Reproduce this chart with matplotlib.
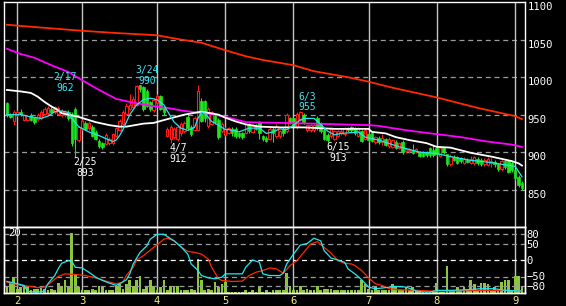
import numpy as np
import matplotlib
matplotlib.use('Agg')
import matplotlib.pyplot as plt

# ---- daily OHLC (day index 0 = last days of January) ----
opens = [966, 950, 942, 950, 954, 943, 943, 950, 945, 944, 945, 951, 952, 958, 953, 951, 949, 949, 954, 951,
         958, 916, 931, 939, 932, 934, 927, 915, 912, 911, 912, 912, 922, 930, 938, 951, 958, 960, 963, 989,
         987, 982, 967, 956, 965, 975, 960, 922, 918, 920, 918, 925, 928, 947, 934, 930, 930, 968, 968, 935,
         938, 948, 943, 928, 923, 926, 931, 931, 925, 925, 926, 937, 927, 936, 940, 921, 919, 918, 931, 921,
         921, 931, 928, 945, 945, 933, 943, 950, 929, 929, 929, 946, 938, 930, 923, 921, 918, 922, 925, 924,
         932, 933, 932, 922, 928, 918, 924, 925, 913, 919, 913, 917, 908, 907, 914, 906, 914, 901, 901, 903,
         901, 900, 900, 900, 905, 903, 906, 895, 905, 897, 884, 894, 893, 892, 886, 890, 886, 885, 891, 890,
         884, 883, 885, 887, 884, 877, 888, 888, 886, 876, 867, 859]
highs = [967, 952, 956, 956, 958, 951, 950, 952, 947, 952, 956, 960, 961, 960, 962, 961, 957, 956, 956, 953,
         960, 935, 944, 941, 941, 936, 929, 917, 914, 925, 920, 926, 934, 944, 956, 965, 978, 975, 990, 990,
         988, 984, 968, 972, 978, 976, 962, 933, 936, 933, 936, 940, 942, 951, 936, 948, 990, 972, 970, 960,
         955, 950, 945, 940, 933, 934, 933, 933, 927, 927, 939, 939, 937, 938, 942, 923, 921, 933, 933, 937,
         930, 933, 952, 947, 947, 953, 955, 952, 938, 938, 938, 948, 940, 932, 925, 934, 930, 930, 932, 934,
         934, 935, 934, 934, 930, 932, 926, 927, 922, 921, 924, 919, 920, 918, 916, 914, 916, 906, 905, 911,
         906, 902, 902, 902, 907, 910, 908, 908, 907, 898, 897, 896, 895, 894, 893, 892, 895, 895, 893, 892,
         892, 893, 892, 889, 886, 890, 890, 890, 888, 878, 869, 861]
lows = [947, 945, 936, 948, 948, 941, 941, 941, 938, 942, 943, 949, 950, 951, 951, 949, 947, 947, 943, 908,
        893, 913, 929, 929, 930, 920, 916, 906, 904, 909, 910, 910, 920, 928, 936, 949, 956, 958, 961, 980,
        955, 960, 955, 954, 963, 956, 950, 920, 912, 918, 915, 922, 926, 930, 921, 928, 928, 940, 940, 932,
        936, 938, 917, 926, 921, 924, 922, 919, 919, 918, 924, 926, 925, 929, 918, 915, 913, 916, 913, 919,
        919, 921, 926, 937, 933, 931, 941, 938, 927, 927, 927, 930, 926, 916, 913, 919, 916, 920, 923, 922,
        927, 927, 923, 920, 913, 916, 914, 913, 911, 911, 910, 908, 906, 905, 904, 904, 898, 899, 899, 897,
        899, 893, 894, 894, 894, 894, 895, 893, 898, 882, 882, 888, 884, 886, 884, 885, 884, 883, 883, 882,
        882, 881, 880, 880, 875, 875, 878, 872, 874, 863, 854, 850]
closes = [949, 947, 954, 954, 951, 949, 948, 943, 940, 950, 954, 958, 959, 953, 960, 959, 955, 954, 945, 912,
          917, 933, 942, 931, 939, 922, 918, 908, 907, 923, 918, 924, 932, 942, 954, 962, 963, 971, 988, 984,
          958, 962, 958, 970, 975, 958, 954, 931, 934, 931, 934, 938, 939, 932, 924, 945, 982, 942, 945, 958,
          953, 940, 920, 938, 931, 932, 925, 921, 921, 920, 937, 928, 935, 931, 926, 917, 915, 931, 926, 935,
          928, 925, 950, 939, 935, 951, 954, 940, 936, 936, 936, 932, 928, 918, 916, 932, 928, 928, 928, 932,
          929, 929, 925, 932, 915, 930, 916, 915, 920, 913, 919, 910, 918, 916, 906, 912, 900, 904, 903, 899,
          904, 895, 895, 896, 896, 896, 897, 906, 900, 884, 895, 890, 886, 888, 891, 887, 891, 893, 885, 884,
          890, 891, 888, 884, 877, 888, 880, 874, 876, 865, 856, 852]
volume = [2.0, 3.3, 5.3, 1.5, 2.0, 2.2, 2.5, 1.0, 1.5, 1.3, 2.0, 1.5, 0.9, 1.5, 1.0, 3.3, 2.5, 4.2, 2.0, 20.0,
          6.5, 2.0, 0.9, 0.9, 0.9, 1.2, 0.9, 2.2, 2.2, 0.9, 0.9, 1.0, 2.5, 3.1, 1.5, 3.1, 4.2, 2.5, 4.2, 5.6,
          1.5, 2.0, 4.2, 2.2, 1.0, 2.0, 4.2, 1.0, 2.2, 2.2, 2.2, 1.0, 0.9, 1.0, 1.5, 0.9, 11.2, 4.2, 0.9, 1.5,
          1.0, 3.7, 2.0, 3.1, 3.7, 0.4, 0.4, 0.4, 0.4, 0.4, 0.9, 0.5, 0.9, 0.5, 2.2, 0.5, 0.9, 0.5, 0.9, 0.9,
          0.9, 0.9, 6.7, 2.2, 0.9, 0.9, 2.2, 0.9, 1.4, 0.9, 0.9, 2.2, 0.9, 1.4, 1.4, 1.4, 0.9, 0.9, 0.9, 0.9,
          0.9, 0.9, 0.9, 0.9, 4.4, 3.1, 1.4, 0.9, 2.0, 0.9, 0.9, 0.9, 0.9, 3.1, 2.0, 0.9, 0.9, 2.0, 0.9, 2.0,
          0.9, 0.3, 0.3, 0.3, 0.3, 0.3, 3.3, 0.3, 0.3, 8.9, 0.9, 0.9, 2.0, 0.9, 2.0, 0.9, 4.2, 3.1, 0.9, 3.3,
          3.3, 3.1, 0.9, 2.0, 0.9, 3.7, 4.2, 4.2, 0.9, 5.6, 5.6, 2.0]

# ---- moving averages (day index, value) ----
ma_long_days = [0, 8, 22, 32, 44, 50, 57, 64, 70, 75, 84, 90, 100, 106, 113, 126, 138, 149, 151]
ma_long = [1070, 1067, 1062, 1059, 1056, 1051, 1046, 1036, 1028, 1023, 1016, 1008, 1000, 994, 986, 973, 959, 948, 944]
ma_mid_days = [0, 4, 8, 13, 18, 22, 27, 32, 37, 42, 47, 52, 57, 60, 65, 70, 80, 90, 106, 109, 113, 119, 126, 133,
               141, 148, 151]
ma_mid = [1038, 1031, 1026, 1016, 1007, 996, 983, 971, 966, 962, 959, 955, 952, 951, 946, 940, 939, 938, 936, 935,
          932, 928, 924, 920, 914, 910, 907]
ma_25_days = [0, 4, 7, 9, 11, 13, 15, 16, 18, 21, 26, 30, 33, 35, 40, 43, 47, 52, 57, 62, 64, 67, 70, 74, 80, 87,
              96, 106, 107, 111, 114, 118, 123, 126, 130, 136, 142, 148, 150, 151]
ma_25 = [983, 981, 979, 974, 967, 961, 956, 952, 950, 947, 940, 936, 934, 934, 938, 939, 944, 950, 954, 950, 946,
         941, 937, 934, 933, 933, 931, 931, 927, 925, 920, 916, 912, 907, 906, 899, 894, 888, 885, 882]
ma_5_days = [0, 4, 7, 10, 12, 14, 16, 18, 19, 21, 24, 27, 30, 31, 32, 33, 34, 36, 38, 40, 42, 44, 46, 47, 49, 51,
             53, 55, 56, 57, 58, 60, 62, 64, 65, 68, 71, 74, 76, 78, 80, 82, 84, 86, 87, 90, 92, 94, 96, 98, 101,
             103, 105, 109, 115, 121, 126, 130, 136, 142, 146, 149, 150, 151]
ma_5 = [950, 950, 947, 945, 948, 954, 955, 953, 945, 934, 927, 922, 916, 914, 916, 922, 930, 950, 963, 970, 972,
        970, 963, 955, 940, 932, 929, 933, 945, 953, 952, 941, 936, 930, 930, 927, 932, 932, 925, 927, 931, 930,
        936, 943, 945, 945, 937, 928, 923, 925, 926, 927, 920, 916, 907, 900, 898, 894, 889, 886, 883, 881, 874, 867]

# ---- oscillators (lower panel) ----
osc_fast_days = [0, 3, 5, 6, 8, 10, 11, 12, 14, 15, 16, 18, 19, 20, 22, 24, 26, 28, 30, 32, 33, 35, 36, 37, 39, 41,
                 42, 44, 46, 47, 49, 51, 53, 54, 56, 57, 59, 61, 63, 64, 66, 69, 70, 72, 74, 75, 77, 80, 81, 82, 84,
                 86, 88, 90, 92, 93, 95, 97, 99, 100, 102, 104, 106, 108, 110, 114, 117, 120, 122, 124, 126, 130,
                 135, 139, 143, 146, 151]
osc_fast = [-65, -72, -77, -95, -97, -97, -92, -72, -47, -27, -10, -2, -4, -22, -24, -37, -52, -62, -70, -77, -72,
            -60, -42, -12, 23, 43, 63, 78, 78, 71, 58, 40, 18, -12, -32, -47, -54, -57, -52, -42, -42, -42, -22, 0,
            -7, -42, -47, -47, -40, -12, 18, 45, 50, 66, 58, 28, 6, 0, -7, -27, -42, -60, -82, -87, -85, -80, -82,
            -94, -97, -97, -92, -92, -90, -87, -87, -92, -94]
osc_slow_days = [0, 4, 7, 9, 11, 13, 15, 17, 20, 23, 26, 29, 32, 34, 35, 37, 38, 40, 42, 44, 46, 47, 49, 51, 53,
                 55, 57, 59, 60, 62, 63, 66, 69, 71, 73, 75, 77, 79, 81, 83, 85, 87, 89, 91, 93, 95, 97, 99, 101,
                 102, 104, 106, 108, 110, 112, 115, 120, 124, 130, 136, 142, 146, 151]
osc_slow = [-67, -77, -80, -84, -82, -67, -50, -42, -44, -47, -54, -64, -72, -67, -47, -22, 0, 13, 30, 46, 63, 66,
            58, 40, 26, 23, 18, 3, -22, -57, -62, -65, -64, -47, -37, -32, -24, -27, -40, -17, -2, 23, 48, 56, 38,
            21, -2, -10, -12, -17, -32, -54, -72, -77, -87, -90, -92, -94, -94, -92, -92, -92, -94]

month_start = [3, 22, 44, 64, 84, 106, 126, 149]
month_labels = ['2', '3', '4', '5', '6', '7', '8', '9']

# high / low marks
mark_day = [14, 20, 38, 48, 86, 94]
mark_text = ['2/17\n962', '2/25\n893', '3/24\n990', '4/7\n912', '6/3\n955', '6/15\n913']
mark_kind = ['high', 'low', 'high', 'low', 'high', 'low']

# ---- style ----
BG = 'black'
RED = '#ff1a1a'
GREEN = '#1ee61e'
VOLC = '#8cc63c'
GRID = '#9a9a9a'
VLINE = '#c4c4c4'
YELLOW = '#f0f08c'
MONO = 'DejaVu Sans Mono'

W, H = 566, 306
fig = plt.figure(figsize=(W / 100, H / 100), dpi=100)
fig.patch.set_facecolor(BG)

def px(l, t, r, b):
    return [l / W, 1 - b / H, (r - l) / W, (b - t) / H]

n = len(closes)
x = np.arange(n)
xlim = (-0.88, n - 1 + 0.88)

ax = fig.add_axes(px(4, 2.3, 525, 227))
ax_v = fig.add_axes(px(4, 227, 525, 293))
ax_o = ax_v.twinx()

for a in (ax, ax_v, ax_o):
    a.set_facecolor(BG)
    a.set_xlim(*xlim)
    for s in a.spines.values():
        s.set_color('white')
        s.set_linewidth(1)
ax_o.patch.set_alpha(0)

# ---- main panel ----
ax.set_ylim(800, 1100)
for lvl in [850, 900, 950, 1000, 1050]:
    ax.axhline(lvl, color=GRID, lw=0.9, ls=(0, (4, 3)), zorder=1)
for m in month_start:
    ax.axvline(m, color=VLINE, lw=1, zorder=1)

o = np.array(opens, float)
c = np.array(closes, float)
hi = np.array(highs, float)
lo = np.array(lows, float)
up = c >= o
body_lo = np.minimum(o, c)
body_h = np.maximum(np.abs(c - o), 0.8)

ax.vlines(x[up], lo[up], hi[up], color=RED, lw=0.8, zorder=3)
ax.bar(x[up], body_h[up], bottom=body_lo[up], width=0.7, facecolor=BG, edgecolor=RED, lw=0.8, zorder=4)
ax.vlines(x[~up], lo[~up], hi[~up], color=GREEN, lw=0.8, zorder=3)
ax.bar(x[~up], body_h[~up], bottom=body_lo[~up], width=0.75, facecolor=GREEN, edgecolor=GREEN, lw=0.5, zorder=4)

ax.plot(ma_long_days, ma_long, color='#ff2a00', lw=1.3, zorder=5)
ax.plot(ma_mid_days, ma_mid, color='#ff00ff', lw=1.3, zorder=5)
ax.plot(ma_25_days, ma_25, color='white', lw=1.3, zorder=5)
ax.plot(ma_5_days, ma_5, color='#22e8f0', lw=0.9, zorder=6)

for d, txt, kind in zip(mark_day, mark_text, mark_kind):
    if kind == 'high':
        extra = 14 if d == 14 else 0
        ax.annotate(txt, (d, hi[d]), xytext=(-1.5, -1 + extra), textcoords='offset pixels',
                    ha='left', va='bottom', multialignment='center', color='#3ce6f5',
                    fontsize=7, family=MONO, linespacing=1.05, zorder=7)
    else:
        ax.annotate(txt, (d, lo[d]), xytext=(-1.5, 0), textcoords='offset pixels',
                    ha='left', va='top', multialignment='center', color='white',
                    fontsize=7, family=MONO, linespacing=1.05, zorder=7)

ax.set_xticks([])
ax.yaxis.tick_right()
ax.set_yticks([850, 900, 950, 1000, 1050, 1100])
ax.tick_params(axis='y', length=0, pad=2, labelcolor='white', labelsize=7.6)
for lab in ax.get_yticklabels():
    lab.set_family(MONO)
    lab.set_va('top')

# ---- lower panel ----
ax_v.set_ylim(0, 22)
ax_v.bar(x, volume, width=0.8, color=VOLC, zorder=2)
for m in month_start:
    ax_v.axvline(m, color=VLINE, lw=1, zorder=1)
ax_v.set_yticks([])
ax_v.set_xticks(month_start)
ax_v.set_xticklabels(month_labels)
ax_v.tick_params(axis='x', length=0, pad=2.5, labelcolor=YELLOW, labelsize=7.6)
for lab in ax_v.get_xticklabels():
    lab.set_family(MONO)
ax_v.text(0.008, 0.985, '20', transform=ax_v.transAxes, ha='left', va='top',
          color='white', fontsize=7.6, family=MONO, zorder=5)

ax_o.set_ylim(-100, 100)
for lvl in [80, 50, -50, -80]:
    ax_o.axhline(lvl, color=GRID, lw=0.9, ls=(0, (4, 3)), zorder=1)
ax_o.axhline(0, color='white', lw=0.9, ls=(0, (4, 3)), zorder=1)
ax_o.plot(osc_slow_days, osc_slow, color='#ff2a00', lw=0.9, zorder=3)
ax_o.plot(osc_fast_days, osc_fast, color='#22e8f0', lw=0.9, zorder=4)
ax_o.set_yticks([80, 50, 0, -50, -80])
ax_o.tick_params(axis='y', length=0, pad=1, labelcolor='white', labelsize=7.6)
for lab in ax_o.get_yticklabels():
    lab.set_family(MONO)

fig.savefig('out.png', dpi=100, facecolor=BG)
